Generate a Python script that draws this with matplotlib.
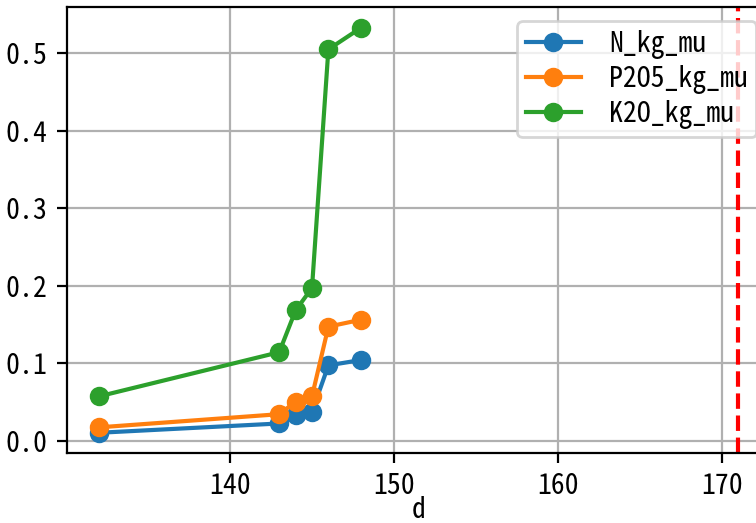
import matplotlib
matplotlib.use('Agg')
import matplotlib.pyplot as plt

plt.rcParams['font.family'] = ['Noto Sans Mono CJK SC', 'Noto Sans CJK SC', 'DejaVu Sans']
plt.rcParams['axes.unicode_minus'] = False

# data
d = [132, 143, 144, 145, 146, 148]
N_kg_mu = [0.010, 0.022, 0.033, 0.037, 0.097, 0.104]
P2O5_kg_mu = [0.017, 0.034, 0.050, 0.057, 0.147, 0.156]
K2O_kg_mu = [0.057, 0.114, 0.168, 0.197, 0.505, 0.533]
d_line = 171

fig = plt.figure(figsize=(3.78, 2.615), dpi=200)
# axes run a bit past the right edge, as in the reference
ax = fig.add_axes([0.0886, 0.1338, 0.930, 0.852])
ax.plot(d, N_kg_mu, 'o-', label='N_kg_mu')
ax.plot(d, P2O5_kg_mu, 'o-', label='P2O5_kg_mu')
ax.plot(d, K2O_kg_mu, 'o-', label='K2O_kg_mu')
ax.axvline(d_line, color='red', linestyle='--')
ax.set_xlabel('d', labelpad=-1.5)
ax.grid(True)
ax.legend(loc='upper right', labelspacing=0.22, borderpad=0.3, handletextpad=1.0)

fig.savefig('out.png', dpi=200)
